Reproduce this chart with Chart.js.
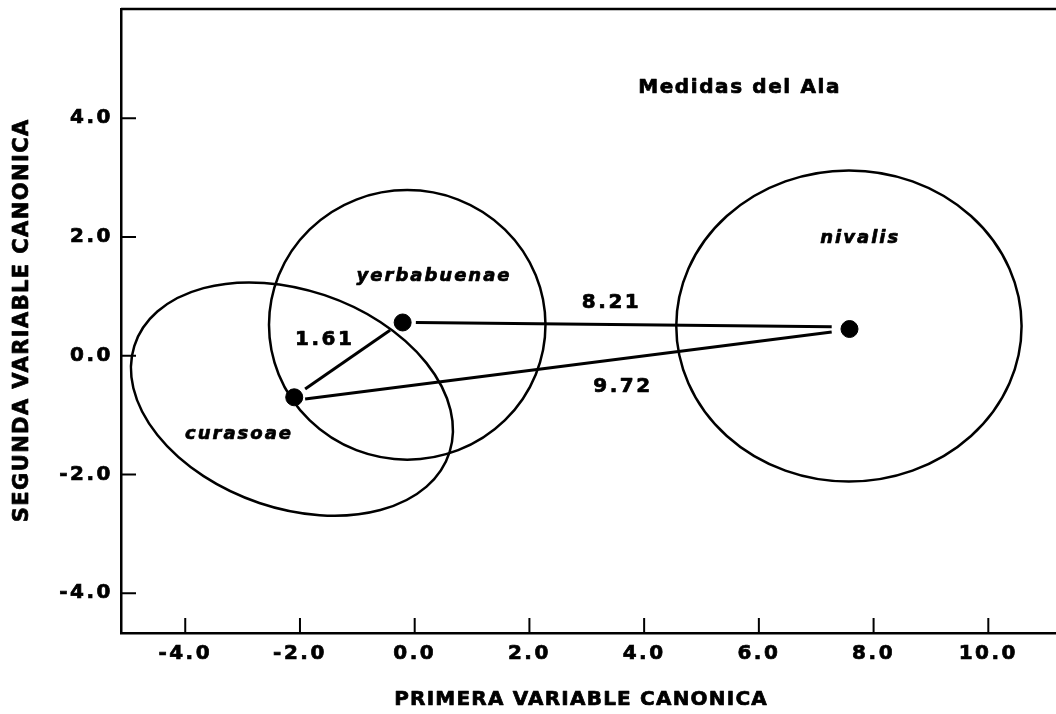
<!DOCTYPE html>
<html>
<head>
<meta charset="utf-8">
<script src="https://cdn.jsdelivr.net/npm/chart.js@4"></script>
<style>
html,body{margin:0;padding:0;background:#fff;}
#wrap{width:1056px;height:714px;position:relative;}
</style>
</head>
<body>
<div id="wrap"><canvas id="c"></canvas></div>
<script>
// ---- data ----
const xTicks = [-4, -2, 0, 2, 4, 6, 8, 10];
const yTicks = [-4, -2, 0, 2, 4];
const xRange = [-5.12, 11.18];
const yRange = [-4.67, 5.84];

const species = ['curasoae', 'yerbabuenae', 'nivalis'];
const centroidX = [-2.10, -0.21, 7.58];
const centroidY = [-0.70, 0.56, 0.45];

const ellipseCx = [-2.14, -0.13, 7.57];
const ellipseCy = [-0.73, 0.52, 0.50];
const ellipseRx = [2.89, 2.41, 3.01];
const ellipseRy = [1.84, 2.27, 2.62];
const ellipseAngle = [-18, 0, 0];

const distLabels = ['8.21', '9.72', '1.61'];
const distStartX = [0.02, -1.91, -1.91];
const distStartY = [0.56, -0.73, -0.56];
const distEndX = [7.27, 7.27, -0.43];
const distEndY = [0.49, 0.40, 0.43];
const distLabelX = [3.41, 3.61, -1.59];
const distLabelY = [0.90, -0.52, 0.27];

const speciesLabelX = [-3.08, 0.32, 7.75];
const speciesLabelY = [-1.33, 1.33, 1.97];

const panelTitle = 'Medidas del Ala';
const panelTitleX = 5.65, panelTitleY = 4.52;
const xTitle = 'PRIMERA VARIABLE CANONICA';
const yTitle = 'SEGUNDA VARIABLE CANONICA';

// ---- helpers ----
const FAM = '"DejaVu Sans", "Liberation Sans", Arial, sans-serif';
function drawSpaced(ctx, text, x, y, font, ls) {
  ctx.save();
  ctx.font = font;
  ctx.letterSpacing = ls + 'px';
  ctx.textAlign = 'left';
  ctx.textBaseline = 'middle';
  ctx.fillStyle = '#000';
  ctx.strokeStyle = '#000';
  ctx.lineWidth = 0.7;
  ctx.lineJoin = 'round';
  const w = ctx.measureText(text).width;
  const x0 = x - (w - ls) / 2;
  ctx.fillText(text, x0, y);
  ctx.strokeText(text, x0, y);
  ctx.restore();
}

const datasets = [];
distLabels.forEach((lab, i) => {
  datasets.push({
    type: 'line',
    label: lab,
    data: [{x: distStartX[i], y: distStartY[i]}, {x: distEndX[i], y: distEndY[i]}],
    borderColor: '#000',
    borderWidth: 3,
    pointRadius: 0,
    fill: false,
    tension: 0
  });
});
datasets.push({
  type: 'scatter',
  label: 'centroides',
  data: species.map((s, i) => ({x: centroidX[i], y: centroidY[i]})),
  backgroundColor: '#000',
  borderColor: '#000',
  pointRadius: 8.5,
  pointHoverRadius: 8.5
});

const framePlugin = {
  id: 'frame',
  beforeDraw(chart) {
    chart.ctx.letterSpacing = '2.5px';
  },
  afterDatasetsDraw(chart) {
    const {ctx, scales: {x, y}} = chart;
    const sx = x.getPixelForValue(1) - x.getPixelForValue(0);
    const sy = y.getPixelForValue(0) - y.getPixelForValue(1);
    ctx.save();
    ctx.lineWidth = 2.5;
    ctx.strokeStyle = '#000';
    for (let i = 0; i < ellipseCx.length; i++) {
      ctx.save();
      ctx.translate(x.getPixelForValue(ellipseCx[i]), y.getPixelForValue(ellipseCy[i]));
      ctx.scale(sx, -sy);
      ctx.rotate(ellipseAngle[i] * Math.PI / 180);
      ctx.beginPath();
      ctx.ellipse(0, 0, ellipseRx[i], ellipseRy[i], 0, 0, Math.PI * 2);
      ctx.restore();
      ctx.stroke();
    }
    ctx.restore();
  },
  afterDraw(chart) {
    const {ctx, chartArea: a, scales: {x, y}} = chart;
    ctx.save();
    ctx.letterSpacing = '0px';
    ctx.strokeStyle = '#000';
    // top frame line
    ctx.lineWidth = 2.5;
    ctx.beginPath();
    ctx.moveTo(a.left, a.top);
    ctx.lineTo(a.right, a.top);
    ctx.stroke();
    // inner tick marks
    ctx.lineWidth = 2;
    ctx.beginPath();
    x.ticks.forEach(t => {
      const px = x.getPixelForValue(t.value);
      ctx.moveTo(px, a.bottom);
      ctx.lineTo(px, a.bottom - 15);
    });
    y.ticks.forEach(t => {
      const py = y.getPixelForValue(t.value);
      ctx.moveTo(a.left, py);
      ctx.lineTo(a.left + 15, py);
    });
    ctx.stroke();
    ctx.restore();

    // labels inside plot
    const fb = 'bold 20px ' + FAM;
    const fi = 'italic bold 18px ' + FAM;
    drawSpaced(ctx, panelTitle, x.getPixelForValue(panelTitleX), y.getPixelForValue(panelTitleY), fb, 1.6);
    distLabels.forEach((lab, i) => {
      drawSpaced(ctx, lab, x.getPixelForValue(distLabelX[i]), y.getPixelForValue(distLabelY[i]), fb, 2.5);
    });
    species.forEach((s, i) => {
      drawSpaced(ctx, s, x.getPixelForValue(speciesLabelX[i]), y.getPixelForValue(speciesLabelY[i]), fi, 2);
    });

    // axis titles
    drawSpaced(ctx, xTitle, (a.left + a.right) / 2 - 8, 700, 'bold 20px ' + FAM, 1.2);
    ctx.save();
    ctx.translate(23, (a.top + a.bottom) / 2);
    ctx.rotate(-Math.PI / 2);
    drawSpaced(ctx, yTitle, 0, 0, 'bold 21px ' + FAM, 1.4);
    ctx.restore();
  }
};

const tickFont = {family: FAM, size: 20, weight: 'bold'};

new Chart(document.getElementById('c'), {
  type: 'scatter',
  data: {datasets},
  options: {
    responsive: true,
    maintainAspectRatio: false,
    animation: false,
    layout: {autoPadding: false, padding: {top: 9, right: 0, bottom: 0, left: 0}},
    plugins: {legend: {display: false}, tooltip: {enabled: false}},
    scales: {
      x: {
        type: 'linear',
        min: xRange[0],
        max: xRange[1],
        afterBuildTicks: s => { s.ticks = xTicks.map(v => ({value: v})); },
        afterFit: s => { s.height = 81; s.paddingLeft = 0; s.paddingRight = 0; },
        ticks: {
          font: tickFont, color: '#000', padding: 9, maxRotation: 0, autoSkip: false,
          textStrokeColor: '#000', textStrokeWidth: 0.7,
          callback: v => Number(v).toFixed(1)
        },
        grid: {display: true, drawOnChartArea: false, drawTicks: false},
        border: {display: true, color: '#000', width: 2.5}
      },
      y: {
        type: 'linear',
        min: yRange[0],
        max: yRange[1],
        afterBuildTicks: s => { s.ticks = yTicks.map(v => ({value: v})); },
        afterFit: s => { s.width = 121; s.paddingTop = 0; s.paddingBottom = 0; },
        ticks: {
          font: tickFont, color: '#000', padding: 8, autoSkip: false,
          textStrokeColor: '#000', textStrokeWidth: 0.7,
          callback: v => Number(v).toFixed(1)
        },
        grid: {display: true, drawOnChartArea: false, drawTicks: false},
        border: {display: true, color: '#000', width: 2.5}
      }
    }
  },
  plugins: [framePlugin]
});
</script>
</body>
</html>
